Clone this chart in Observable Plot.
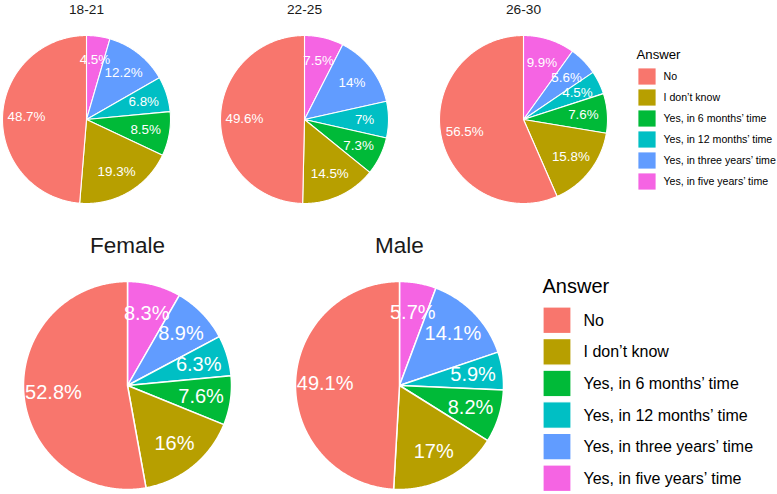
<!DOCTYPE html>
<html>
<head>
<meta charset="utf-8">
<script src="https://cdn.jsdelivr.net/npm/d3@7"></script>
<script src="https://cdn.jsdelivr.net/npm/@observablehq/plot@0.6"></script>
<style>
  html, body { margin: 0; padding: 0; background: #ffffff; }
  #chart svg { display: block; }
</style>
</head>
<body>
<div id="chart"></div>
<script>
// ---------------- data ----------------
const answers = ["No", "I don\u2019t know", "Yes, in 6 months\u2019 time", "Yes, in 12 months\u2019 time", "Yes, in three years\u2019 time", "Yes, in five years\u2019 time"];
const answerColors = ["#F8766D", "#B79F00", "#00BA38", "#00BFC4", "#619CFF", "#F564E3"];
const groups = ["18-21", "22-25", "26-30", "Female", "Male"];
const noValues          = [48.7, 49.6, 56.5, 52.8, 49.1];
const dontKnowValues    = [19.3, 14.5, 15.8, 16.0, 17.0];
const sixMonthValues    = [8.5, 7.3, 7.6, 7.6, 8.2];
const twelveMonthValues = [6.8, 7.0, 4.5, 6.3, 5.9];
const threeYearValues   = [12.2, 14.0, 5.6, 8.9, 14.1];
const fiveYearValues    = [4.5, 7.5, 9.9, 8.3, 5.7];
const legendTitle = "Answer";

// ---------------- layout ----------------
const W = 777, H = 494;
const pieLayout = [
  {cx: 86,  cy: 119, r: 84,  labelSize: 13.4, titleSize: 13.7, titleBase: 13,  stroke: 1.1, big: false},
  {cx: 304, cy: 119, r: 84,  labelSize: 13.4, titleSize: 13.7, titleBase: 13,  stroke: 1.1, big: false},
  {cx: 523, cy: 119, r: 84,  labelSize: 13.4, titleSize: 13.7, titleBase: 13,  stroke: 1.1, big: false},
  {cx: 127, cy: 385, r: 104, labelSize: 20,   titleSize: 22.5, titleBase: 252, stroke: 1.5, big: true},
  {cx: 399, cy: 385, r: 104, labelSize: 20,   titleSize: 22.5, titleBase: 252, stroke: 1.5, big: true}
];
const legendLayout = [
  {titleX: 636, titleBase: 58,  titleSize: 13.2, keyX: 638, keyW: 18, keyH: 17,   top: 68,  pitch: 21,   textX: 663, textSize: 10.6},
  {titleX: 542, titleBase: 292, titleSize: 20,   keyX: 543, keyW: 28, keyH: 26.5, top: 307, pitch: 31.6, textX: 583, textSize: 16}
];
const labelRadius = 0.715;

// ---------------- build geometry ----------------
const seriesByAnswer = [noValues, dontKnowValues, sixMonthValues, twelveMonthValues, threeYearValues, fiveYearValues];
const clockwiseOrder = [5, 4, 3, 2, 1, 0]; // from 12 o'clock, clockwise

const slicePts = [];
const pctLabels = [];
const titles = [];
groups.forEach((g, gi) => {
  const L = pieLayout[gi];
  const vals = clockwiseOrder.map(ai => ({answer: answers[ai], value: seriesByAnswer[ai][gi]}));
  const arcs = d3.pie().sort(null).value(d => d.value)(vals);
  arcs.forEach(a => {
    const id = g + "|" + a.data.answer;
    const n = Math.max(2, Math.ceil((a.endAngle - a.startAngle) / (Math.PI / 360)));
    slicePts.push({id, answer: a.data.answer, big: L.big, x: L.cx, y: L.cy});
    for (let i = 0; i <= n; i++) {
      const t = a.startAngle + (a.endAngle - a.startAngle) * i / n;
      slicePts.push({id, answer: a.data.answer, big: L.big, x: L.cx + L.r * Math.sin(t), y: L.cy - L.r * Math.cos(t)});
    }
    slicePts.push({id, answer: a.data.answer, big: L.big, x: L.cx, y: L.cy});
    const m = (a.startAngle + a.endAngle) / 2;
    pctLabels.push({
      big: L.big,
      x: L.cx + labelRadius * L.r * Math.sin(m),
      y: L.cy - labelRadius * L.r * Math.cos(m),
      text: `${a.data.value}%`
    });
  });
  titles.push({text: g, x: L.cx, y: L.titleBase - 0.32 * L.titleSize, size: L.titleSize});
});

const legendKeys = [];
const legendTexts = [];
const legendTitles = [];
legendLayout.forEach((LL, li) => {
  legendTitles.push({text: legendTitle, x: LL.titleX, y: LL.titleBase - 0.32 * LL.titleSize, size: LL.titleSize, li});
  answers.forEach((ans, i) => {
    const y1 = LL.top + i * LL.pitch;
    legendKeys.push({answer: ans, li, x1: LL.keyX, x2: LL.keyX + LL.keyW, y1, y2: y1 + LL.keyH});
    legendTexts.push({text: ans, li, x: LL.textX, y: y1 + LL.keyH / 2, size: LL.textSize});
  });
});

const font = "'Liberation Sans', Arial, Helvetica, sans-serif";

const chart = Plot.plot({
  width: W,
  height: H,
  margin: 0,
  x: {domain: [0, W], range: [0, W], axis: null},
  y: {domain: [0, H], range: [0, H], axis: null},
  color: {domain: answers, range: answerColors},
  style: {fontFamily: font, background: "#ffffff", color: "#000000"},
  marks: [
    Plot.line(slicePts.filter(d => !d.big), {x: "x", y: "y", z: "id", fill: "answer", stroke: "#ffffff", strokeWidth: 1.1, strokeLinejoin: "round"}),
    Plot.line(slicePts.filter(d => d.big), {x: "x", y: "y", z: "id", fill: "answer", stroke: "#ffffff", strokeWidth: 1.5, strokeLinejoin: "round"}),
    Plot.text(pctLabels.filter(d => !d.big), {x: "x", y: "y", text: "text", fill: "#ffffff", fontSize: 13.4, textAnchor: "middle"}),
    Plot.text(pctLabels.filter(d => d.big), {x: "x", y: "y", text: "text", fill: "#ffffff", fontSize: 20, textAnchor: "middle"}),
    Plot.text(titles.filter(d => d.size < 20), {x: "x", y: "y", text: "text", fill: "#1a1a1a", fontSize: 13.7, textAnchor: "middle"}),
    Plot.text(titles.filter(d => d.size >= 20), {x: "x", y: "y", text: "text", fill: "#1a1a1a", fontSize: 22.5, textAnchor: "middle"}),
    Plot.rect(legendKeys.filter(d => d.li === 0), {x1: "x1", x2: "x2", y1: "y1", y2: "y2", fill: "answer", stroke: "#ffffff", strokeWidth: 0.8}),
    Plot.rect(legendKeys.filter(d => d.li === 1), {x1: "x1", x2: "x2", y1: "y1", y2: "y2", fill: "answer", stroke: "#ffffff", strokeWidth: 1.2}),
    Plot.text(legendTitles.filter(d => d.li === 0), {x: "x", y: "y", text: "text", fill: "#000000", fontSize: 13.2, textAnchor: "start"}),
    Plot.text(legendTitles.filter(d => d.li === 1), {x: "x", y: "y", text: "text", fill: "#000000", fontSize: 20, textAnchor: "start"}),
    Plot.text(legendTexts.filter(d => d.li === 0), {x: "x", y: "y", text: "text", fill: "#000000", fontSize: 10.6, textAnchor: "start"}),
    Plot.text(legendTexts.filter(d => d.li === 1), {x: "x", y: "y", text: "text", fill: "#000000", fontSize: 16, textAnchor: "start"})
  ]
});
document.getElementById("chart").appendChild(chart);
</script>
</body>
</html>
